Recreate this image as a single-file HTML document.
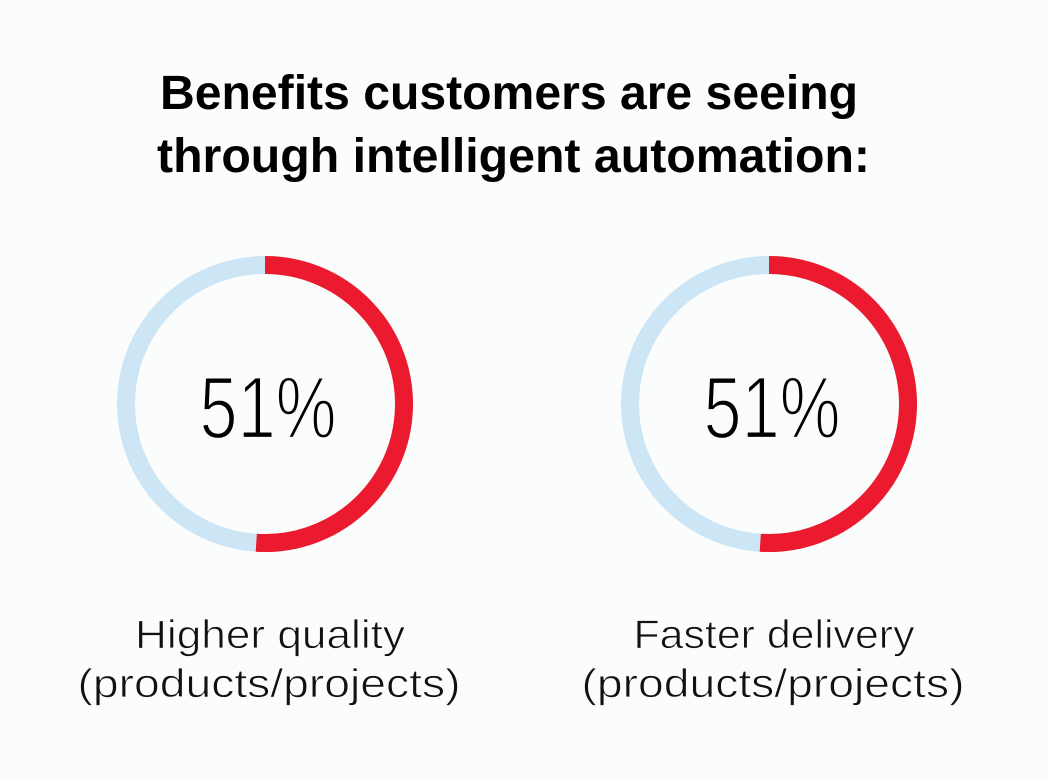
<!DOCTYPE html>
<html><head><meta charset="utf-8"><style>
html,body{margin:0;padding:0;background:#fbfcfc;}
svg{display:block;font-family:"Liberation Sans",Arial,sans-serif;}
</style></head><body>
<svg id="chart" width="1048" height="779" viewBox="0 0 1048 779">
<rect width="1048" height="779" fill="#fbfcfc"/>
<g font-weight="bold" font-size="48" fill="#000">
<text x="160" y="109" textLength="698" lengthAdjust="spacingAndGlyphs">Benefits customers are seeing</text>
<text x="157" y="172" textLength="713" lengthAdjust="spacingAndGlyphs">through intelligent automation:</text>
</g>
<g id="donuts"></g>
</svg>
<script>
const categories = ["Higher quality", "Faster delivery"];
const subLabels = ["(products/projects)", "(products/projects)"];
const values = [51, 51];
const valueLabels = ["51%", "51%"];

const ns = "http://www.w3.org/2000/svg";
const g = document.getElementById('donuts');
const centersX = [265, 769];
const cy = 404, r = 139, sw = 18;
function mk(tag, attrs){const e=document.createElementNS(ns,tag);for(const k in attrs)e.setAttribute(k,attrs[k]);return e;}
function angleToPt(frac){const a=frac*2*Math.PI;return [Math.sin(a), -Math.cos(a)];}
categories.forEach((c,i)=>{
  const cx = centersX[i];
  const grp = mk('g',{});
  
  
  const bg = mk('circle',{cx:cx,cy:cy,r:r,fill:'none',stroke:'#cde6f5','stroke-width':sw});
  
  
  grp.appendChild(bg);
  const f = values[i]/100;
  const [ex,ey] = angleToPt(f);
  const d = `M ${cx} ${cy-r} A ${r} ${r} 0 ${f>0.5?1:0} 1 ${cx+ex*r} ${cy+ey*r}`;
  const arc = mk('path',{d:d,fill:'none',stroke:'#ec1a2f','stroke-width':sw});
  
  
  grp.appendChild(arc);
  const vt = mk('text',{x:cx+3,y:438,'text-anchor':'middle','font-size':88,fill:'#000',stroke:'#fbfcfc','stroke-width':2.2,textLength:137,lengthAdjust:'spacingAndGlyphs'});
  vt.textContent = valueLabels[i];
  
  
  grp.appendChild(vt);
  const widths1=[270,281], widths2=[383,383];
  const l1 = mk('text',{x:cx+5,y:648,'text-anchor':'middle','font-size':40,fill:'#111',stroke:'#fbfcfc','stroke-width':0.8,textLength:widths1[i],lengthAdjust:'spacingAndGlyphs'});
  l1.textContent = c;
  
  
  grp.appendChild(l1);
  const l2 = mk('text',{x:cx+4,y:697,'text-anchor':'middle','font-size':40,fill:'#111',stroke:'#fbfcfc','stroke-width':0.8,textLength:widths2[i],lengthAdjust:'spacingAndGlyphs'});
  l2.textContent = subLabels[i];
  
  
  grp.appendChild(l2);
  g.appendChild(grp);
});
</script>
</body></html>
